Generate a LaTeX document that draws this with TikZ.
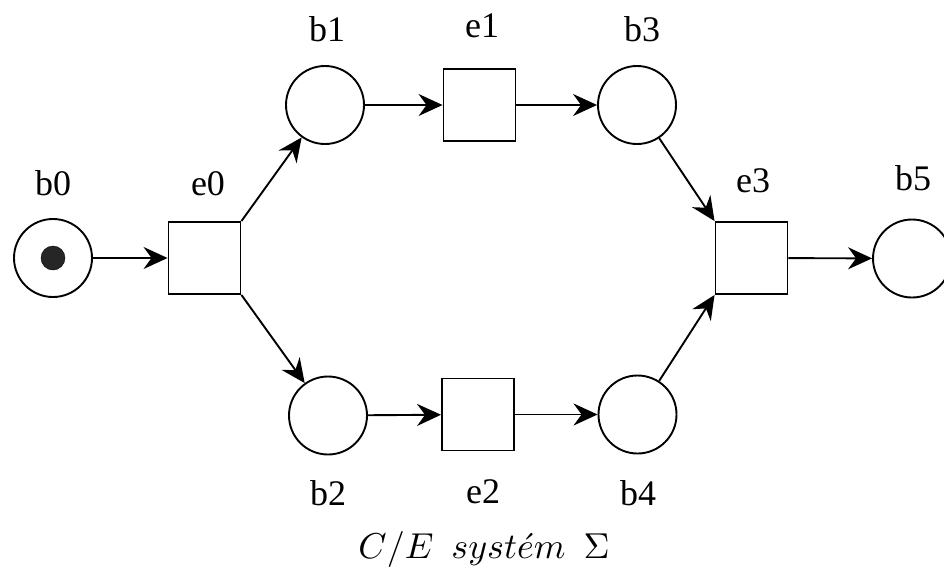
\documentclass[tikz,border=0pt]{standalone}
\usepackage{graphicx}
\usepackage{fontspec}
\setmainfont{Liberation Serif}
\usetikzlibrary{arrows.meta}
\begin{document}
\begin{tikzpicture}[x=1pt,y=-1pt,
  place/.style={draw,circle,line width=1.9pt,minimum size=78pt,inner sep=0pt},
  trans/.style={draw,rectangle,line width=1.9pt,minimum size=72pt,inner sep=0pt},
  arc/.style={line width=1.9pt,-{Stealth[length=24pt,width=22pt,inset=8pt]}},
  lbl/.style={anchor=base,inner sep=0pt,font=\fontsize{36}{40}\selectfont},
  tok/.style={circle,fill=black!85,draw=black,minimum size=24pt,inner sep=0pt}]
\useasboundingbox (0,0) rectangle (944,573);
\node[place] (b0) at (53,258) {};
\node[tok] (tk) at (53,258) {};
\node[trans] (e0) at (204.5,258) {};
\node[place] (b1) at (325,105) {};
\node[trans] (e1) at (479.5,105) {};
\node[place] (b3) at (637,105) {};
\node[place] (b2) at (328,415.5) {};
\node[trans] (e2) at (478,414.5) {};
\node[place] (b4) at (637.5,414.5) {};
\node[trans] (e3) at (751.5,258) {};
\node[place] (b5) at (912,258.5) {};
\draw[arc] (b0) -- (e0);
\draw[arc] (e0.north east) -- (b1);
\draw[arc] (e0.south east) -- (b2);
\draw[arc] (b1) -- (e1);
\draw[arc] (e1) -- (b3);
\draw[arc] (b2) -- (e2);
\draw[arc] (e2) -- (b4);
\draw[arc] (b3) -- (e3.north west);
\draw[arc] (b4) -- (e3.south west);
\draw[arc] (e3) -- (b5);
\node[lbl] (lb0) at (53,195) {b0};
\node[lbl] (le0) at (208,195) {e0};
\node[lbl] (lb1) at (327,41) {b1};
\node[lbl] (le1) at (482,37) {e1};
\node[lbl] (lb3) at (642,41) {b3};
\node[lbl] (le3) at (753,192) {e3};
\node[lbl] (lb5) at (913,190) {b5};
\node[lbl] (lb2) at (328,505) {b2};
\node[lbl] (le2) at (483,503) {e2};
\node[lbl] (lb4) at (638,505) {b4};
\node[anchor=base,inner sep=0pt] (cap) at (484,558) {\scalebox{3.6}{$C/E\ \ syst\acute{e}m\ \ \Sigma$}};
\end{tikzpicture}
\end{document}
